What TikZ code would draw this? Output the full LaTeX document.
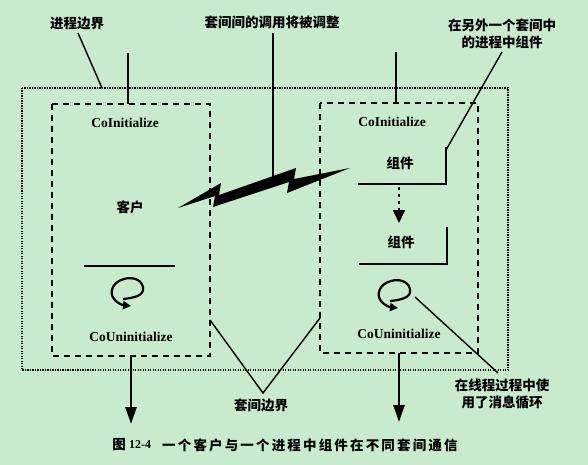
\documentclass[tikz,border=0pt]{standalone}
\usepackage{fontspec}
\setmainfont{Liberation Serif}
\newfontfamily\cjk{Noto Sans CJK SC}
\newfontfamily\cjkcap[LetterSpace=16]{Noto Sans CJK SC}
\usetikzlibrary{arrows.meta}
\definecolor{bg}{RGB}{199,235,204}
\tikzset{
  lbl/.style={font=\cjk\bfseries\fontsize{13.5}{17}\selectfont, inner sep=0pt, align=center},
  latin/.style={font=\bfseries\fontsize{13.5}{16}\selectfont, inner sep=0pt},
  aptbox/.style={draw, line width=2pt, dash pattern=on 6pt off 5pt},
  procbox/.style={draw, line width=1.2pt, dash pattern=on 1.3pt off 1.2pt},
  threadline/.style={draw, line width=2.5pt},
  leader/.style={draw, line width=1.4pt},
  lline/.style={draw, line width=2.2pt},
  bigarrow/.style={threadline, -{Triangle[length=17pt,width=11pt]}},
  msgloop/.pic={
    \draw[line width=2.2pt, -{Triangle[length=8pt,width=8pt]}]
      (-4,8) .. controls (6,7) and (18,5) .. (16,-4)
      .. controls (14,-13) and (3,-14) .. (-3,-12)
      .. controls (-15,-9) and (-18,2) .. (-13,8)
      .. controls (-10,12) and (-5,14) .. (4,15);
  }
}
\begin{document}
\begin{tikzpicture}[x=1pt,y=-1pt]
\fill[bg] (0,0) rectangle (588,465);
\path[use as bounding box] (0,0) rectangle (588,465);

% boxes
\draw[procbox] (22,88) rectangle (508,370);
\draw[aptbox] (52,104) rectangle (210,356);
\draw[aptbox] (320,103) rectangle (478,353);

% coordinates
\coordinate (lttop) at (128,53);
\coordinate (ltbox) at (128,104);
\coordinate (lbbox) at (131,356);
\coordinate (lbend) at (131,424);
\coordinate (rttop) at (396,52);
\coordinate (rtbox) at (396,103);
\coordinate (rbbox) at (399,353);
\coordinate (rbend) at (399,422);

% thread lines
\draw[threadline] (lttop) -- (ltbox);
\draw[threadline] (rttop) -- (rtbox);
\draw[bigarrow] (lbbox) -- (lbend);
\draw[bigarrow] (rbbox) -- (rbend);

% texts
\node[lbl] (procb) at (77,23) {进程边界};
\node[lbl] (calltxt) at (272,22) {套间间的调用将被调整};
\node[lbl] (other1) at (502,25) {在另外一个套间中};
\node[lbl] (other2) at (502,42) {的进程中组件};
\node[lbl] (aptb) at (261,405) {套间边界};
\node[lbl] (loop1) at (502,385) {在线程过程中使};
\node[lbl] (loop2) at (502,402) {用了消息循环};

\node[latin] (linit) at (125,123) {CoInitialize};
\node[latin] (rinit) at (392,122) {CoInitialize};
\node[latin] (luninit) at (131,337) {CoUninitialize};
\node[latin] (runinit) at (399,334) {CoUninitialize};
\node[lbl] (client) at (130,207) {客户};
\node[lbl] (comp1) at (400,163) {组件};
\node[lbl] (comp2) at (401,242) {组件};

% lines in boxes
\coordinate (lh0) at (84,266);
\coordinate (lh1) at (175,266);
\draw[lline] (lh0) -- (lh1);
\coordinate (c1a) at (358,184);
\coordinate (c1b) at (446,184);
\coordinate (c1c) at (446,147);
\draw[lline] (c1a) -- (c1b) -- (c1c);
\coordinate (c2a) at (359,264);
\coordinate (c2b) at (447,264);
\coordinate (c2c) at (447,227);
\draw[lline] (c2a) -- (c2b) -- (c2c);

% dotted arrow between components
\coordinate (da0) at (399,187);
\coordinate (da1) at (399,223);
\draw[line width=1.8pt, dash pattern=on 3pt off 4pt, -{Triangle[length=13pt,width=12pt]}] (da0) -- (da1);

% loops
\pic at (127,291) {msgloop};
\pic at (394,293) {msgloop};

% lightning
\fill[black] (178,208) -- (221,183) -- (219,195) -- (296,168) -- (294,179) -- (350,168)
  -- (287,193) -- (289,182) -- (213,207) -- (215,196) -- cycle;

% leaders
\coordinate (pb0) at (78,33);
\coordinate (pb1) at (102,88);
\draw[leader] (pb0) -- (pb1);
\coordinate (cl0) at (273,33);
\coordinate (cl1) at (273,178);
\draw[line width=2pt] (cl0) -- (cl1);
\coordinate (oa0) at (446,150);
\coordinate (oa1) at (502,52);
\draw[leader] (oa0) -- (oa1);
\coordinate (v0) at (210,320);
\coordinate (vap) at (263,393);
\coordinate (v1) at (320,318);
\draw[leader] (v0) -- (vap) -- (v1);
\coordinate (ml0) at (415,297);
\coordinate (ml1) at (498,373);
\draw[leader] (ml0) -- (ml1);

% caption
\node[lbl] (capfig) at (119,445) {图};
\node[latin, font=\bfseries\fontsize{12}{14}\selectfont] (capnum) at (140,445) {12-4};
\node[font=\cjkcap\bfseries\fontsize{13.5}{16}\selectfont, inner sep=0pt, anchor=west] (captext) at (162,445) {一个客户与一个进程中组件在不同套间通信};
\end{tikzpicture}
\end{document}
